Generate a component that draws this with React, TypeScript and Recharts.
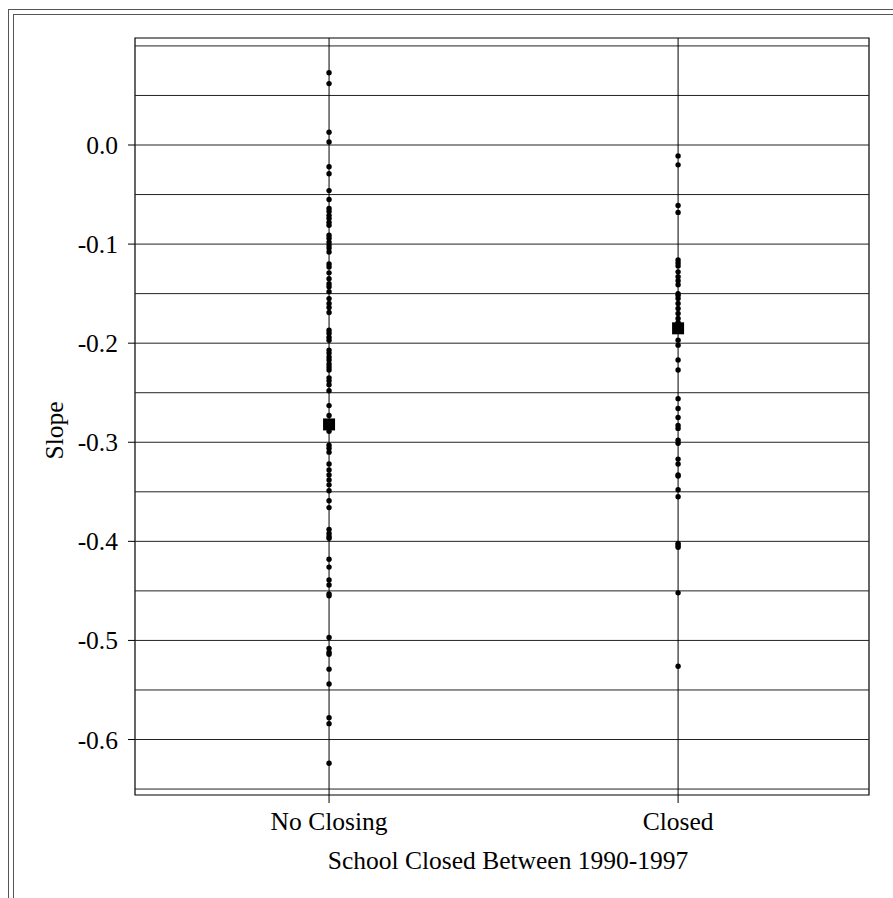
import {
  ScatterChart,
  Scatter,
  XAxis,
  YAxis,
  ReferenceLine,
  ReferenceArea,
} from "recharts";

const categories = ["No Closing", "Closed"];

// slopes, one dot per school
const noClosingSlopes = [
  0.073, 0.062, 0.013, 0.003, -0.022, -0.029, -0.046, -0.055, -0.064, -0.067,
  -0.071, -0.074, -0.078, -0.081, -0.091, -0.094, -0.098, -0.101, -0.104,
  -0.108, -0.12, -0.123, -0.129, -0.135, -0.14, -0.143, -0.148, -0.155, -0.16,
  -0.164, -0.169, -0.187, -0.19, -0.194, -0.197, -0.207, -0.21, -0.214,
  -0.217, -0.221, -0.224, -0.227, -0.235, -0.238, -0.242, -0.248, -0.263,
  -0.273, -0.289, -0.303, -0.306, -0.31, -0.322, -0.328, -0.333, -0.338,
  -0.343, -0.349, -0.359, -0.366, -0.388, -0.392, -0.395, -0.397, -0.418,
  -0.426, -0.439, -0.444, -0.453, -0.455, -0.497, -0.508, -0.512, -0.514,
  -0.529, -0.544, -0.578, -0.584, -0.624,
];

const closedSlopes = [
  -0.011, -0.02, -0.061, -0.068, -0.116, -0.119, -0.122, -0.128, -0.133,
  -0.137, -0.141, -0.15, -0.152, -0.155, -0.16, -0.165, -0.17, -0.175, -0.179,
  -0.197, -0.202, -0.217, -0.227, -0.256, -0.266, -0.275, -0.283, -0.286,
  -0.298, -0.301, -0.317, -0.322, -0.333, -0.334, -0.348, -0.355, -0.402,
  -0.404, -0.406, -0.452, -0.526,
];

const meanSlopes = [-0.282, -0.185];

const yTicks = [0.0, -0.1, -0.2, -0.3, -0.4, -0.5, -0.6];
const gridValues = [
  0.1, 0.05, 0.0, -0.05, -0.1, -0.15, -0.2, -0.25, -0.3, -0.35, -0.4, -0.45,
  -0.5, -0.55, -0.6, -0.65,
];

const xDomain: [number, number] = [0.444, 2.547];
const yDomain: [number, number] = [-0.656, 0.108];

const noClosingData = noClosingSlopes.map((y) => ({ x: 1, y }));
const closedData = closedSlopes.map((y) => ({ x: 2, y }));
const meanData = meanSlopes.map((y, i) => ({ x: i + 1, y }));

const FONT = "'Liberation Serif', 'Times New Roman', serif";

const Dot = (props: any) => {
  const { cx, cy } = props;
  return <circle cx={cx} cy={cy} r={2.7} fill="#000" />;
};

const MeanMark = (props: any) => {
  const { cx, cy } = props;
  return <rect x={cx - 6} y={cy - 6} width={12} height={12} fill="#000" />;
};

const SlopeLabel = (props: any) => {
  const { viewBox } = props;
  const x = viewBox.x + 17.5;
  const y = viewBox.y + viewBox.height / 2 + 14;
  return (
    <text
      x={x}
      y={y}
      transform={`rotate(-90, ${x}, ${y})`}
      textAnchor="middle"
      fontFamily={FONT}
      fontSize={25.5}
      fill="#000"
    >
      Slope
    </text>
  );
};

export default function App() {
  return (
    <div
      style={{
        position: "absolute",
        left: 0,
        top: 0,
        width: 893,
        height: 898,
        overflow: "hidden",
        background: "#fff",
      }}
    >
      {/* double outer frame */}
      <div
        style={{
          position: "absolute",
          left: 8,
          top: 9,
          width: 1000,
          height: 1000,
          border: "1.5px solid #555",
        }}
      />
      <div
        style={{
          position: "absolute",
          left: 13,
          top: 14,
          width: 1000,
          height: 1000,
          border: "1.5px solid #555",
        }}
      />
      <div style={{ position: "absolute", left: 0, top: 0 }}>
        <ScatterChart
          width={893}
          height={898}
          margin={{ top: 38, right: 24, bottom: 23, left: 45 }}
        >
          <XAxis
            type="number"
            dataKey="x"
            domain={xDomain}
            ticks={[1, 2]}
            allowDataOverflow
            tickFormatter={(v) => categories[v - 1] ?? ""}
            height={80}
            axisLine={false}
            tickLine={{ stroke: "#000" }}
            tickSize={8}
            tickMargin={9}
            tick={{ fill: "#000", fontFamily: FONT, fontSize: 25.5 }}
            label={{
              value: "School Closed Between 1990-1997",
              position: "insideBottom",
              offset: 6,
              dx: 6,
              fill: "#000",
              fontFamily: FONT,
              fontSize: 25.5,
            }}
          />
          <YAxis
            type="number"
            dataKey="y"
            domain={yDomain}
            ticks={yTicks}
            allowDataOverflow
            interval={0}
            tickFormatter={(v) => (Math.abs(v) < 1e-9 ? "0.0" : v.toFixed(1))}
            width={90}
            axisLine={false}
            tickLine={{ stroke: "#000" }}
            tickSize={7}
            tickMargin={10}
            tick={{ fill: "#000", fontFamily: FONT, fontSize: 25.5 }}
            label={<SlopeLabel />}
          />
          {gridValues.map((v) => (
            <ReferenceLine key={`h${v}`} y={v} stroke="#222" strokeWidth={1} />
          ))}
          {categories.map((c, i) => (
            <ReferenceLine key={c} x={i + 1} stroke="#000" strokeWidth={1} />
          ))}
          <ReferenceArea
            x1={xDomain[0]}
            x2={xDomain[1]}
            y1={yDomain[0]}
            y2={yDomain[1]}
            fill="none"
            stroke="#000"
            strokeWidth={1.2}
          />
          <Scatter
            data={noClosingData}
            shape={<Dot />}
            isAnimationActive={false}
          />
          <Scatter data={closedData} shape={<Dot />} isAnimationActive={false} />
          <Scatter
            data={meanData}
            shape={<MeanMark />}
            isAnimationActive={false}
          />
        </ScatterChart>
      </div>
    </div>
  );
}
